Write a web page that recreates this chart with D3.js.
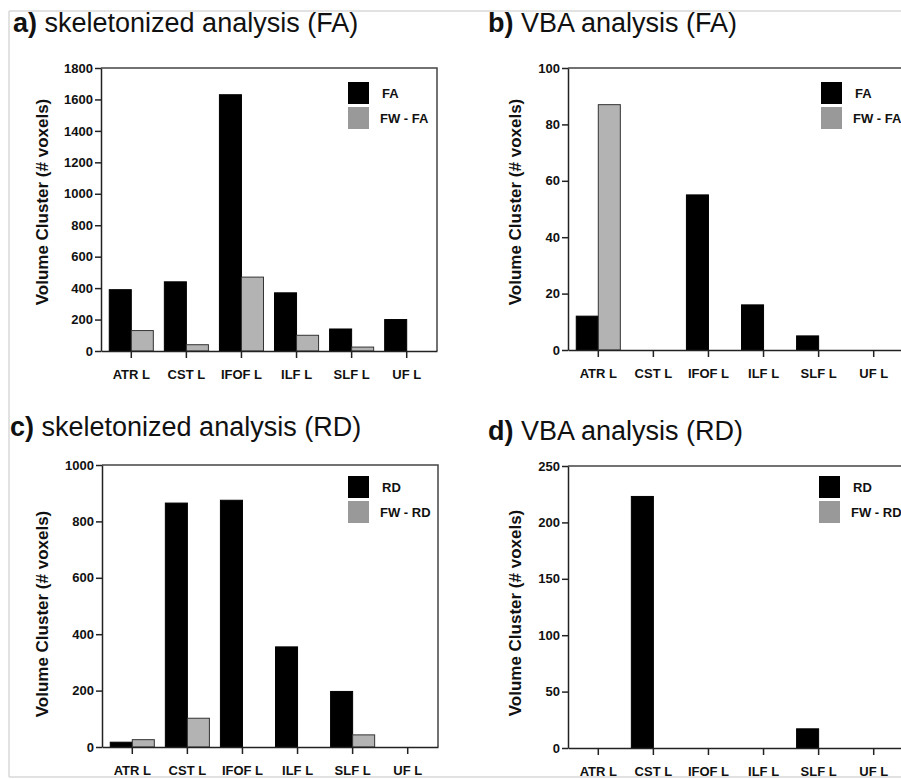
<!DOCTYPE html>
<html lang="en">
  <head>
    <meta charset="UTF-8" />
    <title>Volume Cluster bar charts</title>
    <style>
      body {
        margin: 0;
        background: #fff;
      }
      svg {
        display: block;
        font-family: "Liberation Sans", Arial, sans-serif;
      }
      .axis path,
      .axis line {
        stroke: #222;
        stroke-width: 1.5px;
      }
      .axis text {
        font-family: "Liberation Sans", Arial, sans-serif;
        font-size: 13px;
        font-weight: bold;
        fill: #111;
      }
    </style>
  </head>
  <body>
    <div id="chart"></div>

    <script src="https://d3js.org/d3.v7.min.js"></script>
    <script>
      // data
      const categories = ["ATR L", "CST L", "IFOF L", "ILF L", "SLF L", "UF L"];

      const skelFA = [390, 440, 1630, 370, 140, 200];
      const skelFWFA = [130, 40, 470, 100, 25, 0];
      const vbaFA = [12, 0, 55, 16, 5, 0];
      const vbaFWFA = [87, 0, 0, 0, 0, 0];
      const skelRD = [17, 865, 875, 355, 197, 0];
      const skelFWRD = [26, 102, 0, 0, 43, 0];
      const vbaRD = [0, 223, 0, 0, 17, 0];
      const vbaFWRD = [0, 0, 0, 0, 0, 0];

      const ticksSkelFA = [0, 200, 400, 600, 800, 1000, 1200, 1400, 1600, 1800];
      const ticksVbaFA = [0, 20, 40, 60, 80, 100];
      const ticksSkelRD = [0, 200, 400, 600, 800, 1000];
      const ticksVbaRD = [0, 50, 100, 150, 200, 250];

      const width = 901;
      const height = 779;

      const svg = d3
        .select("#chart")
        .append("svg")
        .attr("width", width)
        .attr("height", height);

      // light frame of the original figure
      const frame = svg.append("g").attr("stroke", "#d9d9d9").attr("stroke-width", 1.5);
      frame.append("line").attr("x1", 9).attr("x2", width).attr("y1", 11).attr("y2", 11);
      frame.append("line").attr("x1", 9).attr("x2", 9).attr("y1", 11).attr("y2", 777);
      frame.append("line").attr("x1", 9).attr("x2", width).attr("y1", 777).attr("y2", 777);

      const panels = [
        {
          letter: "a)", title: " skeletonized analysis (FA)", tx: 13, ty: 32,
          left: 101, top: 68, bottom: 351, ylabX: 42, ylabY: 202,
          max: 1800, ticks: ticksSkelFA, series: [skelFA, skelFWFA],
          names: ["FA", "FW - FA"], legX: 348, legY: 82
        },
        {
          letter: "b)", title: " VBA analysis (FA)", tx: 488, ty: 32,
          left: 568, top: 68, bottom: 350, ylabX: 515, ylabY: 202,
          max: 100, ticks: ticksVbaFA, series: [vbaFA, vbaFWFA],
          names: ["FA", "FW - FA"], legX: 821, legY: 82
        },
        {
          letter: "c)", title: " skeletonized analysis (RD)", tx: 10, ty: 436,
          left: 102, top: 465, bottom: 747, ylabX: 42, ylabY: 614,
          max: 1000, ticks: ticksSkelRD, series: [skelRD, skelFWRD],
          names: ["RD", "FW - RD"], legX: 348, legY: 476
        },
        {
          letter: "d)", title: " VBA analysis (RD)", tx: 488, ty: 440,
          left: 568, top: 466, bottom: 748, ylabX: 515, ylabY: 613,
          max: 250, ticks: ticksVbaRD, series: [vbaRD, vbaFWRD],
          names: ["RD", "FW - RD"], legX: 819, legY: 476
        }
      ];

      const plotWidth = 336;
      const barFill = ["#000", "#b3b3b3"];
      const barStroke = ["#000", "#333"];
      const legendFill = ["#000", "#999"];

      panels.forEach(drawPanel);

      function drawPanel(p) {
        const g = svg.append("g");

        // title: bold letter, normal text
        const title = g
          .append("text")
          .attr("x", p.tx)
          .attr("y", p.ty)
          .attr("font-size", 27)
          .attr("fill", "#111");
        title.append("tspan").attr("font-weight", "bold").text(p.letter);
        title.append("tspan").text(p.title);

        const x = d3
          .scaleBand()
          .domain(categories)
          .range([p.left, p.left + plotWidth])
          .paddingOuter(0.05);

        const y = d3.scaleLinear().domain([0, p.max]).range([p.bottom, p.top]);

        const barW = x.bandwidth() * 0.4;

        // frame top and right
        g.append("path")
          .attr("fill", "none")
          .attr("stroke", "#444")
          .attr("stroke-width", 1.5)
          .attr(
            "d",
            "M" + p.left + "," + p.top + "H" + (p.left + plotWidth) + "V" + p.bottom
          );

        // bars
        p.series.forEach(function (values, s) {
          g.append("g")
            .selectAll("rect")
            .data(values.map((v, i) => ({ cat: categories[i], v: v })))
            .join("rect")
            .filter((d) => d.v > 0)
            .attr("x", (d) => x(d.cat) + x.bandwidth() / 2 - barW + s * barW)
            .attr("y", (d) => y(d.v))
            .attr("width", barW)
            .attr("height", (d) => y(0) - y(d.v))
            .attr("fill", barFill[s])
            .attr("stroke", barStroke[s])
            .attr("stroke-width", 1);
        });

        // axes
        g.append("g")
          .attr("class", "axis")
          .attr("transform", "translate(" + p.left + ",0)")
          .call(
            d3.axisLeft(y)
              .tickValues(p.ticks)
              .tickFormat(d3.format("d"))
              .tickSize(6)
              .tickPadding(2)
              .tickSizeOuter(0)
          );

        g.append("g")
          .attr("class", "axis")
          .attr("transform", "translate(0," + p.bottom + ")")
          .call(d3.axisBottom(x).tickSize(7).tickPadding(12).tickSizeOuter(0));

        // y axis title
        g.append("text")
          .attr("transform", "translate(" + p.ylabX + "," + p.ylabY + ") rotate(-90)")
          .attr("text-anchor", "middle")
          .attr("dominant-baseline", "central")
          .attr("font-size", 17)
          .attr("font-weight", "bold")
          .attr("fill", "#111")
          .text("Volume Cluster (# voxels)");

        // legend
        const leg = g.append("g").attr("transform", "translate(" + p.legX + "," + p.legY + ")");
        p.names.forEach(function (name, i) {
          leg.append("rect")
            .attr("x", 0)
            .attr("y", i * 25)
            .attr("width", 21)
            .attr("height", 22)
            .attr("fill", legendFill[i]);
          leg.append("text")
            .attr("x", i === 0 ? 34 : 32)
            .attr("y", i * 25 + 11)
            .attr("dominant-baseline", "central")
            .attr("font-size", 13)
            .attr("font-weight", "bold")
            .attr("fill", "#111")
            .text(name);
        });
      }
    </script>
  </body>
</html>
